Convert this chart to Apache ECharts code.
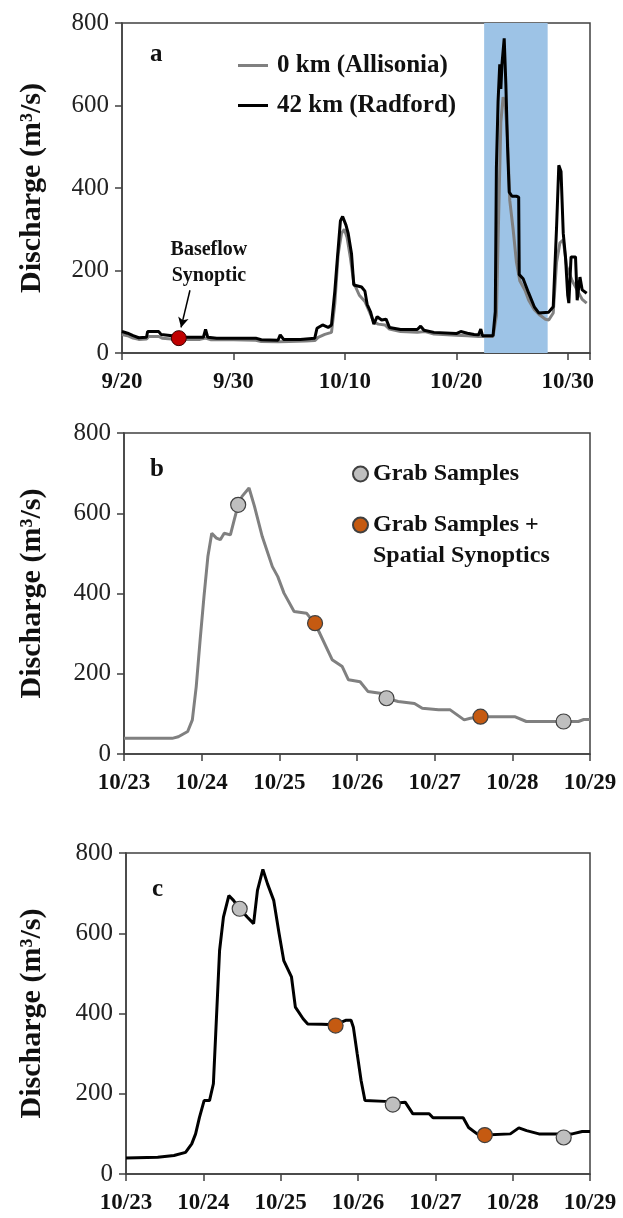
<!DOCTYPE html>
<html>
<head>
<meta charset="utf-8">
<script src="https://cdn.jsdelivr.net/npm/echarts@6/dist/echarts.min.js"></script>
<style>
  html, body { margin: 0; padding: 0; background: #fff; }
  #chart { width: 623px; height: 1218px; }
</style>
</head>
<body>
<div id="chart"></div>
<script>
// panel a: days since 9/20
var aTicks = ['9/20', '9/30', '10/10', '10/20', '10/30'];
var allisonia = [[0,45],[0.5,42],[1,36],[1.5,33],[2.2,34],[2.4,40],[3.3,40],[3.6,36],[5,33],[7,33],[7.5,36],[8,32],[10,32],[12,31],[12.5,28],[14,27],[15,28],[16.5,29],[17.3,30],[17.6,38],[18.2,45],[18.8,50],[19.1,120],[19.4,240],[19.7,290],[19.95,300],[20.2,280],[20.5,230],[20.8,170],[21.3,140],[21.8,125],[22.2,100],[22.6,75],[23,70],[23.6,68],[24,58],[25,52],[26.5,50],[27.2,52],[28,46],[30,43],[31,42],[32,40],[33.3,40],[33.6,90],[33.8,330],[34,560],[34.2,620],[34.4,600],[34.6,520],[34.8,370],[35.1,300],[35.4,220],[35.7,175],[36.2,150],[36.5,128],[37,105],[37.5,92],[38,82],[38.3,80],[38.7,97],[39,220],[39.3,267],[39.6,274],[39.9,210],[40.4,175],[40.9,150],[41.3,130],[41.7,121]];
var radford = [[0,52],[0.5,48],[1,42],[1.5,37],[2.2,38],[2.3,52],[3.3,52],[3.5,45],[4.5,42],[5,38],[6,38],[7.3,38],[7.5,57],[7.7,38],[8.5,36],[10,36],[12,36],[12.5,32],[14,31],[14.2,44],[14.5,33],[16,33],[17.3,36],[17.5,60],[18,68],[18.5,62],[18.8,68],[19.1,150],[19.3,220],[19.6,320],[19.8,331],[20.1,310],[20.3,290],[20.6,240],[20.8,165],[21.5,160],[21.8,150],[22,118],[22.3,100],[22.6,70],[22.9,88],[23.3,80],[23.7,82],[24,62],[25,57],[26.5,57],[26.8,65],[27.1,55],[28,50],[30,47],[30.4,52],[31,48],[31.6,45],[32,44],[32.2,58],[32.35,42],[33.3,42],[33.5,100],[33.6,450],[33.75,610],[33.9,700],[34,640],[34.1,700],[34.3,763],[34.45,650],[34.6,500],[34.75,390],[35,380],[35.4,380],[35.6,378],[35.65,190],[36,180],[36.5,145],[37,112],[37.4,97],[38.3,99],[38.7,112],[39,305],[39.2,455],[39.4,440],[39.6,290],[39.8,233],[40,140],[40.1,121],[40.3,233],[40.7,233],[40.85,128],[41.1,184],[41.3,153],[41.7,145]];
var eventBand = [32.5, 38.2];
var baseflowSynoptic = [[5.1, 36]];

// panels b and c: days since 10/23
var bcTicks = ['10/23', '10/24', '10/25', '10/26', '10/27', '10/28', '10/29'];
var allisonEvent = [[0,39],[0.62,39],[0.7,43],[0.82,56],[0.88,85],[0.93,168],[0.98,284],[1.03,393],[1.08,492],[1.13,550],[1.19,538],[1.24,534],[1.29,550],[1.37,546],[1.42,584],[1.47,621],[1.52,642],[1.61,663],[1.68,617],[1.78,542],[1.91,467],[1.98,442],[2.06,401],[2.19,355],[2.35,351],[2.45,326],[2.5,309],[2.68,235],[2.81,218],[2.89,185],[3.04,180],[3.14,156],[3.32,151],[3.38,139],[3.53,131],[3.74,126],[3.84,114],[4.05,110],[4.2,110],[4.38,85],[4.46,89],[4.59,93],[5.03,93],[5.18,81],[5.85,81],[5.92,86],[6,86]];
var allisonGrab = [[1.47,621],[3.38,139],[5.66,81]];
var allisonGrabSynoptic = [[2.46,326],[4.59,93]];
var radfordEvent = [[0,40],[0.41,42],[0.62,46],[0.77,54],[0.85,75],[0.9,100],[0.95,141],[1.01,183],[1.08,183],[1.13,225],[1.16,349],[1.21,557],[1.26,640],[1.33,694],[1.39,682],[1.47,661],[1.57,640],[1.65,624],[1.7,707],[1.77,759],[1.83,723],[1.91,682],[1.98,599],[2.04,532],[2.14,491],[2.19,416],[2.29,387],[2.35,374],[2.53,373],[2.71,372],[2.84,383],[2.91,383],[2.94,366],[2.99,299],[3.04,233],[3.09,183],[3.35,181],[3.45,176],[3.61,179],[3.71,150],[3.92,150],[3.97,140],[4.36,140],[4.43,116],[4.54,100],[4.64,97],[4.97,100],[5.08,115],[5.18,108],[5.34,100],[5.68,100],[5.77,100],[5.9,106],[6,106]];
var radfordGrab = [[1.47,661],[3.45,173],[5.66,91]];
var radfordGrabSynoptic = [[2.71,370],[4.64,97]];

var FONT = '"Liberation Serif", "Times New Roman", serif';
var AXIS_COL = '#404040';

function yAxisFor(gi, gap) {
  return {
    gridIndex: gi, type: 'value', min: 0, max: 800, interval: 200,
    name: 'Discharge (m³/s)', nameLocation: 'middle', nameGap: gap,
    nameTextStyle: { fontFamily: FONT, fontWeight: 'bold', fontSize: 30, color: '#111' },
    axisLine: { show: true, lineStyle: { color: AXIS_COL, width: 1.5 } },
    axisTick: { show: true, length: 7, lineStyle: { color: AXIS_COL, width: 1.5 } },
    axisLabel: { margin: 13, fontFamily: FONT, fontSize: 25, color: '#222' },
    splitLine: { show: false }
  };
}
function xAxisFor(gi, max, step, labels) {
  return {
    gridIndex: gi, type: 'value', min: 0, max: max, interval: step,
    axisLine: { show: true, lineStyle: { color: AXIS_COL, width: 1.5 } },
    axisTick: { show: true, length: 7, lineStyle: { color: AXIS_COL, width: 1.5 } },
    axisLabel: {
      margin: 18, fontFamily: FONT, fontWeight: 'bold', fontSize: 23, color: '#111',
      showMaxLabel: true,
      formatter: function (v) { var l = labels[Math.round(v / step)]; return (v % step === 0 && l) ? l : ''; }
    },
    splitLine: { show: false }
  };
}
var gridStyle = { show: true, borderColor: AXIS_COL, borderWidth: 1.5, backgroundColor: 'transparent' };
var labelFont = { fontFamily: FONT, fontWeight: 'bold', fontSize: 25, color: '#111' };

var chart = echarts.init(document.getElementById('chart'), null, { renderer: 'canvas' });
chart.setOption({
  animation: false,
  backgroundColor: '#fff',
  grid: [
    Object.assign({ left: 122, top: 23, width: 468, height: 330 }, gridStyle),
    Object.assign({ left: 124, top: 433, width: 466, height: 321 }, gridStyle),
    Object.assign({ left: 126, top: 853, width: 464, height: 321 }, gridStyle)
  ],
  xAxis: [xAxisFor(0, 42, 10, aTicks), xAxisFor(1, 6, 1, bcTicks), xAxisFor(2, 6, 1, bcTicks)],
  yAxis: [yAxisFor(0, 75), yAxisFor(1, 77), yAxisFor(2, 79)],
  title: [
    { text: 'a', left: 145, top: 37, textStyle: labelFont },
    { text: 'b', left: 145, top: 452, textStyle: labelFont },
    { text: 'c', left: 147, top: 872, textStyle: labelFont },
    { text: 'Spatial Synoptics', left: 368, top: 539, textStyle: { fontFamily: FONT, fontWeight: 'bold', fontSize: 24, color: '#111' } }
  ],
  legend: [
    {
      data: ['0 km (Allisonia)', '42 km (Radford)'], orient: 'vertical', left: 233, top: 48,
      icon: 'rect', itemWidth: 30, itemHeight: 3, itemGap: 15,
      textStyle: { fontFamily: FONT, fontWeight: 'bold', fontSize: 25, color: '#111', padding: [0, 0, 0, 4] }
    },
    {
      data: ['Grab Samples', 'Grab Samples + Spatial Synoptics'], orient: 'vertical', left: 347, top: 457,
      icon: 'circle', itemWidth: 15, itemHeight: 15, itemGap: 27,
      textStyle: { fontFamily: FONT, fontWeight: 'bold', fontSize: 24, color: '#111' },
      formatter: function (n) { return n === 'Grab Samples + Spatial Synoptics' ? 'Grab Samples +' : n; }
    }
  ],
  series: [
    {
      name: 'band', type: 'line', xAxisIndex: 0, yAxisIndex: 0, data: [], z: 1,
      markArea: { silent: true, itemStyle: { color: '#9dc3e6', opacity: 1 }, data: [[{ xAxis: eventBand[0] }, { xAxis: eventBand[1] }]] }
    },
    {
      name: '0 km (Allisonia)', type: 'line', xAxisIndex: 0, yAxisIndex: 0, data: allisonia, z: 2,
      symbol: 'none', lineStyle: { color: '#808080', width: 3 }, itemStyle: { color: '#808080' }
    },
    {
      name: '42 km (Radford)', type: 'line', xAxisIndex: 0, yAxisIndex: 0, data: radford, z: 3,
      symbol: 'none', lineStyle: { color: '#000', width: 3 }, itemStyle: { color: '#000' }
    },
    {
      name: 'Baseflow Synoptic', type: 'scatter', xAxisIndex: 0, yAxisIndex: 0, data: baseflowSynoptic, z: 5,
      symbolSize: 15, itemStyle: { color: '#c00000', borderColor: '#3a0000', borderWidth: 1, opacity: 1 },
      markLine: {
        silent: true, symbol: ['none', 'arrow'], symbolSize: [8, 10],
        lineStyle: { color: '#000', width: 1.5, type: 'solid' }, label: { show: false },
        data: [[{ coord: [6.1, 152] }, { coord: [5.3, 62] }]]
      },
      markPoint: {
        silent: true, symbol: 'circle', symbolSize: 0,
        label: { show: true, position: 'inside', formatter: 'Baseflow\nSynoptic', fontFamily: FONT, fontWeight: 'bold', fontSize: 20, lineHeight: 26, color: '#111' },
        data: [{ coord: [7.8, 218] }]
      }
    },
    {
      name: '0 km (Allisonia)', type: 'line', xAxisIndex: 1, yAxisIndex: 1, data: allisonEvent, z: 2,
      symbol: 'none', lineStyle: { color: '#808080', width: 3 }, itemStyle: { color: '#808080' }
    },
    {
      name: 'Grab Samples', type: 'scatter', xAxisIndex: 1, yAxisIndex: 1, data: allisonGrab, z: 5,
      symbolSize: 15, itemStyle: { color: '#bfbfbf', borderColor: '#404040', borderWidth: 1.2, opacity: 1 }
    },
    {
      name: 'Grab Samples + Spatial Synoptics', type: 'scatter', xAxisIndex: 1, yAxisIndex: 1, data: allisonGrabSynoptic, z: 5,
      symbolSize: 15, itemStyle: { color: '#c55a11', borderColor: '#404040', borderWidth: 1.2, opacity: 1 }
    },
    {
      name: '42 km (Radford)', type: 'line', xAxisIndex: 2, yAxisIndex: 2, data: radfordEvent, z: 2,
      symbol: 'none', lineStyle: { color: '#000', width: 3 }, itemStyle: { color: '#000' }
    },
    {
      name: 'Grab Samples', type: 'scatter', xAxisIndex: 2, yAxisIndex: 2, data: radfordGrab, z: 5,
      symbolSize: 15, itemStyle: { color: '#bfbfbf', borderColor: '#404040', borderWidth: 1.2, opacity: 1 }
    },
    {
      name: 'Grab Samples + Spatial Synoptics', type: 'scatter', xAxisIndex: 2, yAxisIndex: 2, data: radfordGrabSynoptic, z: 5,
      symbolSize: 15, itemStyle: { color: '#c55a11', borderColor: '#404040', borderWidth: 1.2, opacity: 1 }
    }
  ]
});
</script>
</body>
</html>
